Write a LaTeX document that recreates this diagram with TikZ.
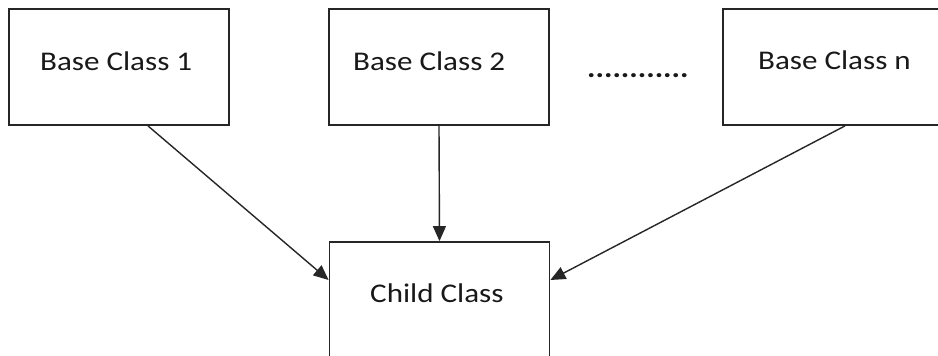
\documentclass[tikz,border=0pt]{standalone}
\usepackage{fontspec}
\setmainfont{Carlito}
\usetikzlibrary{arrows.meta}
\begin{document}
\begin{tikzpicture}[x=1pt,y=-1pt,
  box/.style={draw=black!85,line width=1.8pt,minimum width=220pt,minimum height=116pt,inner sep=0pt},
  lbl/.style={anchor=base west,inner sep=0pt,font=\fontsize{27}{30}\selectfont\addfontfeature{FakeStretch=1.15},text=black!90},
  conn/.style={draw=black!85,line width=1.4pt,-{Triangle[length=15pt,width=13pt]}}]
\clip (0,0) rectangle (938,356);
\fill[white] (0,0) rectangle (938,356);
\node[box] (b1) at (119,67) {};
\node[box] (b2) at (439,67) {};
\node[box] (bn) at (833,67) {};
\node[box,minimum height=120pt] (child) at (439.5,302) {};
\node[lbl] (t1) at (40,70) {Base Class 1};
\node[lbl] (t2) at (353,70) {Base Class 2};
\node[lbl] (tn) at (758,69) {Base Class n};
\node[lbl] (tc) at (370,302) {Child Class};
\node[lbl,font=\bfseries\fontsize{28}{30}\selectfont\addfontfeature{FakeStretch=1.13}] (dots) at (587,77) {............};
\draw[conn] ([xshift=29pt]b1.south) -- ([yshift=22pt]child.west);
\draw[conn] (b2.south) -- (child.north);
\draw[conn] ([xshift=12pt]bn.south) -- ([yshift=22pt]child.east);
\end{tikzpicture}
\end{document}
